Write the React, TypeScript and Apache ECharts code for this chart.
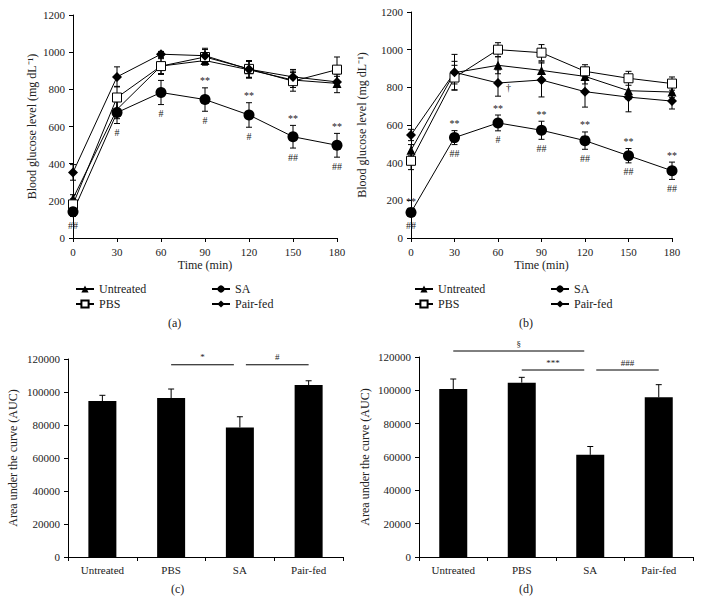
import React, { useEffect, useRef } from "react";
import * as echarts from "echarts";

const times = [0, 30, 60, 90, 120, 150, 180];
const groups = ["Untreated", "PBS", "SA", "Pair-fed"];
const yTicksLine = [0, 1200, 200];
const yTicksBar = [0, 120000, 20000];

// Panel (a)
const untreatedA = [213, 692, 925, 955, 905, 850, 832];
const pbsA = [181, 756, 925, 974, 910, 844, 906];
const saA = [141, 675, 783, 745, 662, 545, 499];
const pairA = [353, 867, 989, 981, 908, 867, 840];
const untreatedErrA = [20, 50, 40, 25, 45, 40, 50];
const pbsErrA = [30, 60, 45, 40, 45, 54, 68];
const saErrA = [25, 59, 65, 63, 66, 61, 64];
const pairErrA = [42, 54, 15, 40, 45, 40, 30];
const saAboveA = ["", "", "", "**", "**", "**", "**"];
const saBelowA = ["##", "#", "#", "#", "#", "##", "##"];

// Panel (b)
const untreatedB = [466, 878, 917, 890, 858, 782, 775];
const pbsB = [410, 852, 1000, 984, 885, 848, 820];
const saB = [136, 533, 611, 572, 517, 437, 357];
const pairB = [547, 880, 823, 839, 777, 748, 727];
const untreatedErrB = [30, 60, 45, 45, 40, 45, 30];
const pbsErrB = [47, 65, 37, 43, 35, 37, 35];
const saErrB = [20, 37, 42, 48, 46, 38, 46];
const pairErrB = [30, 95, 70, 90, 82, 78, 42];
const saAboveB = ["**", "**", "**", "**", "**", "**", "**"];
const saBelowB = ["##", "##", "#", "##", "##", "##", "##"];
const pairRightB = ["", "", "†", "", "", "", ""];

// Panel (c)
const aucC = [94500, 96300, 78500, 104200];
const aucErrC = [3500, 5500, 6500, 2600];
const sigFromC = [1, 2];
const sigToC = [2, 3];
const sigLevelC = [116500, 116500];
const sigTextC = ["*", "#"];

// Panel (d)
const aucD = [100800, 104600, 61300, 95800];
const aucErrD = [6000, 3200, 5000, 7600];
const sigFromD = [0, 1, 2];
const sigToD = [2, 2, 3];
const sigLevelD = [123600, 112200, 112200];
const sigTextD = ["§", "***", "###"];

const FONT = "Liberation Serif";
const TXT = "#222";

const symbolStyles: Record<string, any> = {
  Untreated: { symbol: "triangle", symbolSize: 9, itemStyle: { color: "#000" } },
  PBS: { symbol: "rect", symbolSize: 9, itemStyle: { color: "#fff", borderColor: "#000", borderWidth: 1 } },
  SA: { symbol: "circle", symbolSize: 11, itemStyle: { color: "#000" } },
  "Pair-fed": { symbol: "diamond", symbolSize: 10, itemStyle: { color: "#000" } },
};

function lineSeries(panel: number, means: number[][], errs: number[][]) {
  const out: any[] = [];
  groups.forEach((g, gi) => {
    const m = means[gi];
    const e = errs[gi];
    out.push({
      type: "custom",
      name: "err-" + panel + "-" + g,
      xAxisIndex: panel,
      yAxisIndex: panel,
      z: 1,
      silent: true,
      data: times.map((t, i) => [t, m[i], e[i]]),
      renderItem: (params: any, api: any) => {
        const x = api.value(0);
        const v = api.value(1);
        const er = api.value(2);
        const top = api.coord([x, v + er]);
        const bot = api.coord([x, v - er]);
        const st = { stroke: "#000", lineWidth: 1 };
        return {
          type: "group",
          children: [
            { type: "line", shape: { x1: top[0], y1: top[1], x2: bot[0], y2: bot[1] }, style: st },
            { type: "line", shape: { x1: top[0] - 3, y1: top[1], x2: top[0] + 3, y2: top[1] }, style: st },
            { type: "line", shape: { x1: bot[0] - 3, y1: bot[1], x2: bot[0] + 3, y2: bot[1] }, style: st },
          ],
        };
      },
    });
    out.push({
      type: "line",
      name: g,
      xAxisIndex: panel,
      yAxisIndex: panel,
      z: 3,
      data: times.map((t, i) => [t, m[i]]),
      ...symbolStyles[g],
      lineStyle: { color: "#000", width: 1 },
      emphasis: { disabled: true },
    });
  });
  return out;
}

function annotSeries(panel: number, means: number[], errs: number[], texts: string[], mode: string) {
  return {
    type: "custom",
    xAxisIndex: panel,
    yAxisIndex: panel,
    z: 4,
    silent: true,
    data: times.map((t, i) => [t, means[i], errs[i]]),
    renderItem: (params: any, api: any) => {
      const txt = texts[params.dataIndex];
      if (!txt) return null;
      const x = api.value(0);
      const v = api.value(1);
      const er = api.value(2);
      let p: number[];
      let dx = 0;
      let dy = 0;
      let align = "center";
      if (mode === "above") {
        p = api.coord([x, v + er]);
        dy = -7;
      } else if (mode === "below") {
        p = api.coord([x, v - er]);
        dy = 9;
      } else {
        p = api.coord([x, v]);
        dx = 8;
        dy = 4;
        align = "left";
      }
      return {
        type: "text",
        x: p[0] + dx,
        y: p[1] + dy,
        style: {
          text: txt,
          fontSize: 10,
          fontFamily: FONT,
          fill: TXT,
          align,
          verticalAlign: "middle",
        },
      };
    },
  };
}

function barSeries(panel: number, vals: number[], errs: number[]) {
  return [
    {
      type: "bar",
      xAxisIndex: panel,
      yAxisIndex: panel,
      data: vals,
      barWidth: 28,
      itemStyle: { color: "#000" },
      silent: true,
    },
    {
      type: "custom",
      xAxisIndex: panel,
      yAxisIndex: panel,
      z: 3,
      silent: true,
      data: vals.map((v, i) => [i, v, errs[i]]),
      renderItem: (params: any, api: any) => {
        const i = api.value(0);
        const v = api.value(1);
        const er = api.value(2);
        const base = api.coord([i, v]);
        const top = api.coord([i, v + er]);
        const st = { stroke: "#000", lineWidth: 1 };
        return {
          type: "group",
          children: [
            { type: "line", shape: { x1: base[0], y1: base[1], x2: top[0], y2: top[1] }, style: st },
            { type: "line", shape: { x1: top[0] - 3, y1: top[1], x2: top[0] + 3, y2: top[1] }, style: st },
          ],
        };
      },
    },
  ];
}

function sigSeries(panel: number, from: number[], to: number[], levels: number[], texts: string[]) {
  return {
    type: "custom",
    xAxisIndex: panel,
    yAxisIndex: panel,
    z: 3,
    silent: true,
    clip: false,
    data: from.map((f, i) => [f, levels[i]]),
    renderItem: (params: any, api: any) => {
      const i = params.dataIndex;
      const a = api.coord([from[i], levels[i]]);
      const b = api.coord([to[i], levels[i]]);
      let x1 = a[0];
      let x2 = b[0];
      if (from[i] === 2) x1 += 6;
      if (to[i] === 2) x2 -= 6;
      const st = { stroke: "#000", lineWidth: 1 };
      return {
        type: "group",
        children: [
          { type: "line", shape: { x1, y1: a[1], x2, y2: a[1] }, style: st },
          {
            type: "text",
            x: (x1 + x2) / 2,
            y: a[1] - 3,
            style: {
              text: texts[i],
              fontSize: 9,
              fontFamily: FONT,
              fill: TXT,
              align: "center",
              verticalAlign: "bottom",
            },
          },
        ],
      };
    },
  };
}

const plain = (v: number) => String(v);
const axisLine = { show: true, lineStyle: { color: "#000", width: 1 } };
const axisTick = { show: true, length: 4, lineStyle: { color: "#000" } };
const axisLabel = { color: TXT, fontFamily: FONT, fontSize: 11, formatter: plain };
const nameStyle = { color: TXT, fontFamily: FONT, fontSize: 12, fontWeight: "normal" };

export default function App() {
  const ref = useRef<HTMLDivElement>(null);
  useEffect(() => {
    if (!ref.current) return;
    const chart = echarts.init(ref.current, undefined, { renderer: "svg" });
    const lineX = (i: number) => ({
      type: "value",
      gridIndex: i,
      min: 0,
      max: 180,
      interval: 30,
      name: "Time (min)",
      nameLocation: "middle",
      nameGap: 21,
      nameTextStyle: nameStyle,
      axisLine,
      axisTick,
      axisLabel,
      splitLine: { show: false },
    });
    const lineY = (i: number, gap: number) => ({
      type: "value",
      gridIndex: i,
      min: yTicksLine[0],
      max: yTicksLine[1],
      interval: yTicksLine[2],
      name: "Blood glucose level (mg dL⁻¹)",
      nameLocation: "middle",
      nameGap: gap,
      nameTextStyle: nameStyle,
      axisLine,
      axisTick,
      axisLabel,
      splitLine: { show: false },
    });
    const barX = (i: number) => ({
      type: "category",
      gridIndex: i,
      data: groups,
      axisLine,
      axisTick,
      axisLabel: { color: TXT, fontFamily: FONT, fontSize: 11, margin: 7 },
    });
    const barY = (i: number, gap: number) => ({
      type: "value",
      gridIndex: i,
      min: yTicksBar[0],
      max: yTicksBar[1],
      interval: yTicksBar[2],
      name: "Area under the curve (AUC)",
      nameLocation: "middle",
      nameGap: gap,
      nameTextStyle: nameStyle,
      axisLine,
      axisTick,
      axisLabel,
      splitLine: { show: false },
    });
    const legendBase = {
      orient: "vertical",
      itemWidth: 18,
      itemHeight: 9,
      itemGap: 3,
      selectedMode: false,
      textStyle: { color: TXT, fontFamily: FONT, fontSize: 12, fontWeight: "normal" },
    };
    const option: any = {
      animation: false,
      backgroundColor: "#fff",
      textStyle: { fontFamily: FONT },
      grid: [
        { left: 73, top: 15, width: 264, height: 223 },
        { left: 411, top: 12, width: 261, height: 226 },
        { left: 68, top: 359, width: 275, height: 198 },
        { left: 419, top: 357, width: 274, height: 200 },
      ],
      xAxis: [lineX(0), lineX(1), barX(2), barX(3)],
      yAxis: [lineY(0, 35), lineY(1, 43), barY(2, 49), barY(3, 48)],
      legend: [
        { ...legendBase, left: 70, top: 278, data: ["Untreated", "PBS"] },
        { ...legendBase, left: 206, top: 278, data: ["SA", "Pair-fed"] },
        { ...legendBase, left: 409, top: 278, data: ["Untreated", "PBS"] },
        { ...legendBase, left: 545, top: 278, data: ["SA", "Pair-fed"] },
      ],
      graphic: [
        { type: "text", left: 168, top: 317, style: { text: "(a)", fontFamily: FONT, fontSize: 12, fill: TXT } },
        { type: "text", left: 519, top: 317, style: { text: "(b)", fontFamily: FONT, fontSize: 12, fill: TXT } },
        { type: "text", left: 171, top: 583, style: { text: "(c)", fontFamily: FONT, fontSize: 12, fill: TXT } },
        { type: "text", left: 519, top: 583, style: { text: "(d)", fontFamily: FONT, fontSize: 12, fill: TXT } },
      ],
      series: [
        ...lineSeries(0, [untreatedA, pbsA, saA, pairA], [untreatedErrA, pbsErrA, saErrA, pairErrA]),
        annotSeries(0, saA, saErrA, saAboveA, "above"),
        annotSeries(0, saA, saErrA, saBelowA, "below"),
        ...lineSeries(1, [untreatedB, pbsB, saB, pairB], [untreatedErrB, pbsErrB, saErrB, pairErrB]),
        annotSeries(1, saB, saErrB, saAboveB, "above"),
        annotSeries(1, saB, saErrB, saBelowB, "below"),
        annotSeries(1, pairB, pairErrB, pairRightB, "right"),
        ...barSeries(2, aucC, aucErrC),
        sigSeries(2, sigFromC, sigToC, sigLevelC, sigTextC),
        ...barSeries(3, aucD, aucErrD),
        sigSeries(3, sigFromD, sigToD, sigLevelD, sigTextD),
      ],
    };
    chart.setOption(option);
    return () => chart.dispose();
  }, []);
  return (
    <div
      ref={ref}
      style={{ position: "fixed", left: 0, top: 0, width: 702, height: 602, background: "#fff" }}
    />
  );
}
